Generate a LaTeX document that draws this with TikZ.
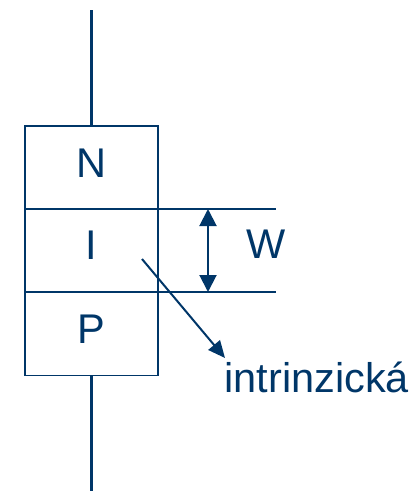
\documentclass[tikz,border=0pt]{standalone}
\usepackage{fontspec}
\setmainfont{Liberation Sans}
\usetikzlibrary{arrows.meta}
\definecolor{ink}{RGB}{0,54,104}
\begin{document}
\begin{tikzpicture}[x=1pt,y=-1pt,
  cell/.style={draw=ink,line width=1.8pt,minimum width=133pt,minimum height=83pt,inner sep=0pt,outer sep=0pt},
  lbl/.style={color=ink,font=\fontsize{41.5}{48}\selectfont,inner sep=0pt,outer sep=0pt,anchor=base},
  lead/.style={draw=ink,line width=3pt},
  edge/.style={draw=ink,line width=2.6pt},
  pointer/.style={draw=ink,line width=2pt,-{Triangle[length=17pt,width=15pt]}},
  span/.style={draw=ink,line width=2pt,{Triangle[length=17pt,width=17pt]}-{Triangle[length=17pt,width=17pt]}}]
  \useasboundingbox (0,0) rectangle (413,491);
  % the three layers of the diode
  \node[cell] (cellN) at (91.5,167.5) {};
  \node[cell] (cellI) at (91.5,250.5) {};
  \node[cell] (cellP) at (91.5,334) {};
  \node[lbl] (tN) at (91.5,177) {N};
  \node[lbl] (tI) at (91.5,259) {I};
  \node[lbl] (tP) at (91.5,343) {P};
  % terminals
  \coordinate (topend) at (91.5,10);
  \coordinate (botend) at (91.5,491);
  \draw[lead] (cellN.north) -- (topend);
  \draw[lead] (cellP.south) -- (botend);
  % width of the intrinsic layer
  \coordinate (hiEnd) at (276,209);
  \coordinate (loEnd) at (276,292);
  \draw[edge] (cellI.north east) -- (hiEnd);
  \draw[edge] (cellI.south east) -- (loEnd);
  \coordinate (wTop) at (208,209);
  \coordinate (wBot) at (208,292);
  \draw[span] (wTop) -- (wBot);
  \node[lbl] (tW) at (266,258) {W};
  % intrinsic label with pointer
  \coordinate (pStart) at (142,259);
  \coordinate (pEnd) at (225,358);
  \draw[pointer] (pStart) -- (pEnd);
  \node[lbl,anchor=base west] (tIntr) at (224.5,392) {intrinzická};
\end{tikzpicture}
\end{document}
